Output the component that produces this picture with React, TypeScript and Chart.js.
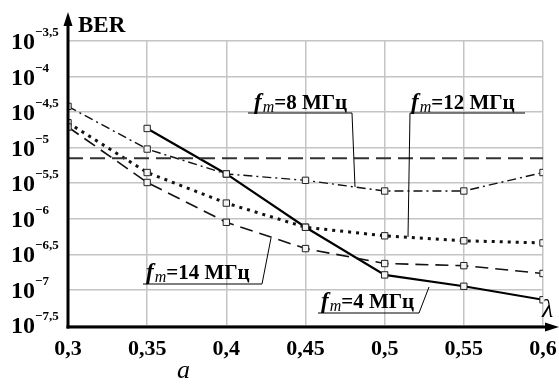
import React, { useEffect, useRef } from "react";
import { Chart, registerables } from "chart.js";
Chart.register(...registerables);

const xValues = [0.3, 0.35, 0.4, 0.45, 0.5, 0.55, 0.6];
const xTickLabels = ["0,3", "0,35", "0,4", "0,45", "0,5", "0,55", "0,6"];
const yTickExponents = [-7.5, -7, -6.5, -6, -5.5, -5, -4.5, -4, -3.5];
const yTickLabels = ["−7,5", "−7", "−6,5", "−6", "−5,5", "−5", "−4,5", "−4", "−3,5"];
// log10(BER)
const ber4MHz = [null, -4.73, -5.37, -6.12, -6.79, -6.95, -7.14];
const ber8MHz = [-4.42, -5.02, -5.37, -5.46, -5.61, -5.61, -5.35];
const ber12MHz = [-4.65, -5.35, -5.78, -6.12, -6.24, -6.31, -6.34];
const ber14MHz = [-4.71, -5.49, -6.05, -6.42, -6.63, -6.66, -6.77];
const thresholdExp = -5.15;
const seriesNames = ["4", "8", "12", "14"];

const FONT = '"Liberation Serif", "Times New Roman", serif';

function toPoints(exps: (number | null)[]) {
  return xValues.map((x, i) => ({ x, y: exps[i] == null ? null : Math.pow(10, exps[i] as number) }));
}

function drawLabel(ctx: CanvasRenderingContext2D, x: number, y: number, num: string) {
  ctx.fillStyle = "#000";
  ctx.textAlign = "left";
  ctx.textBaseline = "alphabetic";
  ctx.font = `italic bold 23px ${FONT}`;
  ctx.fillText("f", x, y);
  let cx = x + ctx.measureText("f").width + 1;
  ctx.font = `italic 16px ${FONT}`;
  ctx.fillText("m", cx, y + 3);
  cx += ctx.measureText("m").width;
  ctx.font = `bold 21px ${FONT}`;
  ctx.fillText("=" + num + " МГц", cx, y);
}

function line(ctx: CanvasRenderingContext2D, pts: number[][], w = 1) {
  ctx.beginPath();
  ctx.lineWidth = w;
  ctx.strokeStyle = "#000";
  ctx.setLineDash([]);
  ctx.moveTo(pts[0][0], pts[0][1]);
  for (let i = 1; i < pts.length; i++) ctx.lineTo(pts[i][0], pts[i][1]);
  ctx.stroke();
}

const decorPlugin = {
  id: "decor",
  afterDraw(chart: any) {
    const ctx: CanvasRenderingContext2D = chart.ctx;
    const xs = chart.scales.x;
    const ys = chart.scales.y;
    const area = chart.chartArea;
    ctx.save();
    // axes
    ctx.fillStyle = "#000";
    ctx.fillRect(area.left - 1.5, 22, 3, area.bottom - 22 + 1.5);
    ctx.fillRect(area.left - 1.5, area.bottom - 1.5, 548 - area.left, 3);
    ctx.beginPath();
    ctx.moveTo(area.left, 12);
    ctx.lineTo(area.left - 4.5, 26);
    ctx.lineTo(area.left + 4.5, 26);
    ctx.closePath();
    ctx.fill();
    ctx.beginPath();
    ctx.moveTo(559, area.bottom);
    ctx.lineTo(545, area.bottom - 4.5);
    ctx.lineTo(545, area.bottom + 4.5);
    ctx.closePath();
    ctx.fill();

    // y tick labels
    yTickExponents.forEach((e, i) => {
      const py = ys.getPixelForValue(Math.pow(10, e));
      ctx.textAlign = "left";
      ctx.textBaseline = "alphabetic";
      ctx.font = `bold 24px ${FONT}`;
      ctx.fillText("10", 11, py + 8);
      const w = ctx.measureText("10").width;
      ctx.font = `bold 13px ${FONT}`;
      ctx.fillText(yTickLabels[i], 11 + w, py - 5);
    });
    // x tick labels
    xValues.forEach((v, i) => {
      const px = xs.getPixelForValue(v);
      ctx.textAlign = "center";
      ctx.textBaseline = "middle";
      ctx.font = `bold 22px ${FONT}`;
      ctx.fillText(xTickLabels[i], px, 349);
    });
    // axis titles
    ctx.textAlign = "left";
    ctx.textBaseline = "alphabetic";
    ctx.font = `bold 23px ${FONT}`;
    ctx.fillText("BER", 78, 32);
    ctx.font = `italic 26px ${FONT}`;
    ctx.fillText("λ", 542, 317);
    ctx.fillText("a", 177, 378);

    // annotations
    drawLabel(ctx, 254, 109, seriesNames[1]);
    line(ctx, [[248, 113], [352, 113], [355, 187]]);
    drawLabel(ctx, 411, 109, seriesNames[2]);
    line(ctx, [[525, 113], [410, 113], [408, 237]]);
    drawLabel(ctx, 146, 279, seriesNames[3]);
    line(ctx, [[143, 284], [262, 284], [271, 238]]);
    drawLabel(ctx, 321, 308, seriesNames[0]);
    line(ctx, [[318, 313], [419, 313], [429, 287]]);
    ctx.restore();
  },
};

export default function App() {
  const ref = useRef<HTMLCanvasElement>(null);
  useEffect(() => {
    if (!ref.current) return;
    const pointStyle = {
      pointStyle: "rect" as const,
      pointRadius: 4.5,
      pointBackgroundColor: "#f2f2f2",
      pointBorderColor: "#222",
      pointBorderWidth: 1,
    };
    const chart = new Chart(ref.current, {
      type: "line",
      data: {
        datasets: [
          {
            label: "threshold",
            data: [
              { x: 0.3, y: Math.pow(10, thresholdExp) },
              { x: 0.6, y: Math.pow(10, thresholdExp) },
            ],
            borderColor: "#333",
            borderWidth: 2,
            borderDash: [15, 7],
            pointRadius: 0,
          },
          {
            label: "fm=14 МГц",
            data: toPoints(ber14MHz),
            borderColor: "#111",
            borderWidth: 1.6,
            borderDash: [13, 7],
            ...pointStyle,
          },
          {
            label: "fm=12 МГц",
            data: toPoints(ber12MHz),
            borderColor: "#111",
            borderWidth: 3,
            borderDash: [3, 5],
            ...pointStyle,
          },
          {
            label: "fm=8 МГц",
            data: toPoints(ber8MHz),
            borderColor: "#111",
            borderWidth: 1.4,
            borderDash: [9, 4, 2, 4],
            ...pointStyle,
          },
          {
            label: "fm=4 МГц",
            data: toPoints(ber4MHz),
            borderColor: "#000",
            borderWidth: 2.2,
            ...pointStyle,
          },
        ],
      },
      options: {
        responsive: false,
        animation: false,
        devicePixelRatio: 1,
        layout: { padding: { left: 68, right: 16, top: 41, bottom: 58 } },
        plugins: { legend: { display: false }, tooltip: { enabled: false } },
        scales: {
          x: {
            type: "linear",
            min: 0.3,
            max: 0.6,
            afterBuildTicks: (s: any) => {
              s.ticks = xValues.map((v) => ({ value: v }));
            },
            ticks: { display: false },
            grid: { color: "#c4c4c4", lineWidth: 1.5, drawTicks: false },
            border: { display: false },
          },
          y: {
            type: "logarithmic",
            min: Math.pow(10, -7.5),
            max: Math.pow(10, -3.5),
            afterBuildTicks: (s: any) => {
              s.ticks = yTickExponents.map((e) => ({ value: Math.pow(10, e) }));
            },
            ticks: { display: false },
            grid: { color: "#c4c4c4", lineWidth: 1.5, drawTicks: false },
            border: { display: false },
          },
        },
      },
      plugins: [decorPlugin],
    });
    return () => chart.destroy();
  }, []);
  return (
    <div style={{ position: "absolute", left: 0, top: 0, width: 559, height: 385, background: "#fff" }}>
      <canvas ref={ref} width={559} height={385} style={{ width: 559, height: 385 }} />
    </div>
  );
}
